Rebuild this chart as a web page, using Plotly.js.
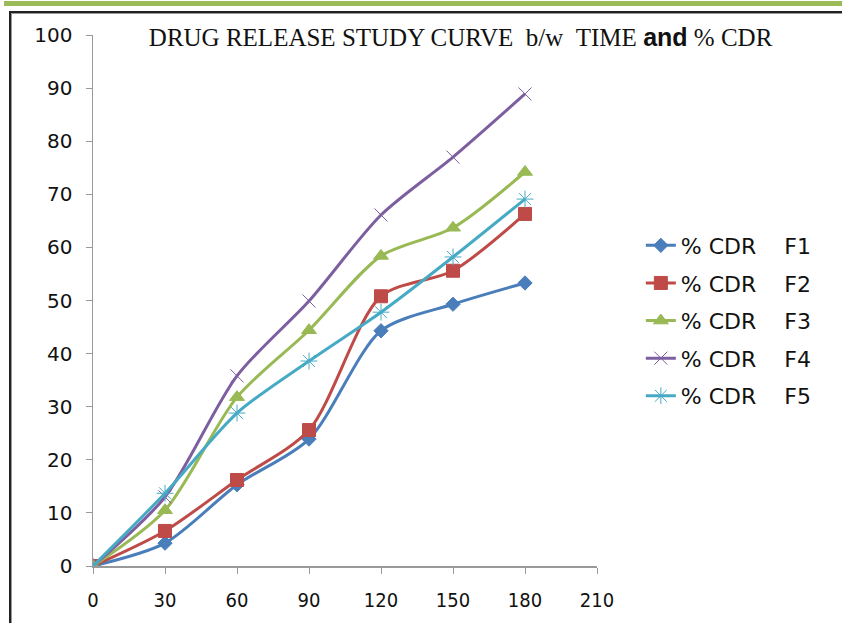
<!DOCTYPE html>
<html>
<head>
<meta charset="utf-8">
<script src="https://cdn.plot.ly/plotly-3.0.1.min.js"></script>
<style>
  html, body { margin: 0; padding: 0; background: #fff; }
  #wrap { position: relative; width: 842px; height: 623px; overflow: hidden; }
  #chart { width: 842px; height: 623px; }
  #greenbar { position: absolute; left: 4px; top: 1px; width: 842px; height: 5px; background: #9bbb59; pointer-events: none; }
  #frame { position: absolute; left: 9px; top: 11px; width: 900px; height: 700px; border-left: 2px solid #222; border-top: 2px solid #222; box-shadow: inset 1px 1px 0 #999; pointer-events: none; }
</style>
</head>
<body>
<div id="wrap">
  <div id="chart"></div>
  <div id="greenbar"></div>
  <div id="frame"></div>
</div>
<script>
const time = [0, 30, 60, 90, 120, 150, 180];
const cdrF1 = [0, 4.3, 15.3, 23.9, 44.3, 49.3, 53.3];
const cdrF2 = [0, 6.6, 16.2, 25.6, 50.8, 55.6, 66.3];
const cdrF3 = [0, 10.5, 31.8, 44.4, 58.4, 63.7, 74.2];
const cdrF4 = [0, 13.0, 35.8, 49.9, 66.1, 77.0, 88.9];
const cdrF5 = [0, 13.7, 28.8, 38.6, 47.8, 58.2, 69.1];
const seriesNames = ['% CDR\u00a0\u00a0\u00a0\u00a0F1', '% CDR\u00a0\u00a0\u00a0\u00a0F2', '% CDR\u00a0\u00a0\u00a0\u00a0F3', '% CDR\u00a0\u00a0\u00a0\u00a0F4', '% CDR\u00a0\u00a0\u00a0\u00a0F5'];
const xTicks = [0, 30, 60, 90, 120, 150, 180, 210];
const yTicks = [0, 10, 20, 30, 40, 50, 60, 70, 80, 90, 100];

const colors = ['#4a7ebb', '#be4b48', '#98b954', '#7d5fa0', '#46aac5'];
const symbols = ['diamond', 'square', 'triangle-up', 'x-thin-open', 'asterisk-open'];
const sizes = [11, 13, 13, 13, 14];
const data = [cdrF1, cdrF2, cdrF3, cdrF4, cdrF5];

const traces = data.map((ys, i) => ({
  x: time, y: ys, name: seriesNames[i], type: 'scatter', mode: 'lines+markers',
  legendgroup: 'g' + i,
  line: { color: colors[i], width: 3, shape: 'spline', smoothing: 0.8 },
  marker: { color: colors[i], symbol: symbols[i], size: sizes[i], line: { color: colors[i], width: 1 } }
}));

const layout = {
  width: 842, height: 623,
  margin: { l: 93, r: 245, t: 35, b: 57 },
  paper_bgcolor: '#fff', plot_bgcolor: '#fff',
  font: { family: 'DejaVu Sans, Verdana, sans-serif', size: 17, color: '#111' },
  title: {
    text: 'DRUG RELEASE STUDY CURVE\u00a0\u00a0b/w\u00a0\u00a0TIME <span style="font-family:\'Liberation Sans\',Arial,sans-serif;font-weight:bold">and</span> % CDR',
    font: { family: 'Liberation Serif, Times New Roman, serif', size: 25, color: '#111' },
    x: 0.547, xanchor: 'center', xref: 'container',
    y: 1 - 37 / 623, yanchor: 'middle', yref: 'container'
  },
  xaxis: {
    range: [0, 210], tickvals: xTicks, ticktext: xTicks.map(String),
    showgrid: false, zeroline: false, showline: true, linecolor: '#999', linewidth: 1.5,
    ticks: 'outside', ticklen: 6, tickcolor: '#999', tickwidth: 1,
    tickfont: { family: 'DejaVu Sans Condensed, DejaVu Sans, sans-serif', size: 20, color: '#111' },
    ticklabelstandoff: 9
  },
  yaxis: {
    range: [0, 100], tickvals: yTicks, ticktext: yTicks.map(String),
    showgrid: false, zeroline: false, showline: true, linecolor: '#999', linewidth: 1.5,
    ticks: 'outside', ticklen: 6, tickcolor: '#999', tickwidth: 1,
    tickfont: { family: 'DejaVu Sans, Verdana, sans-serif', size: 20, color: '#111' },
    ticklabelstandoff: 9
  },
  showlegend: true,
  legend: {
    x: 1.087, xanchor: 'left', y: 0.643, yanchor: 'top',
    font: { family: 'DejaVu Sans, Verdana, sans-serif', size: 22, color: '#111' },
    tracegroupgap: 6, bgcolor: 'rgba(0,0,0,0)', borderwidth: 0
  }
};

Plotly.newPlot('chart', traces, layout, { displayModeBar: false, staticPlot: true });
</script>
</body>
</html>
